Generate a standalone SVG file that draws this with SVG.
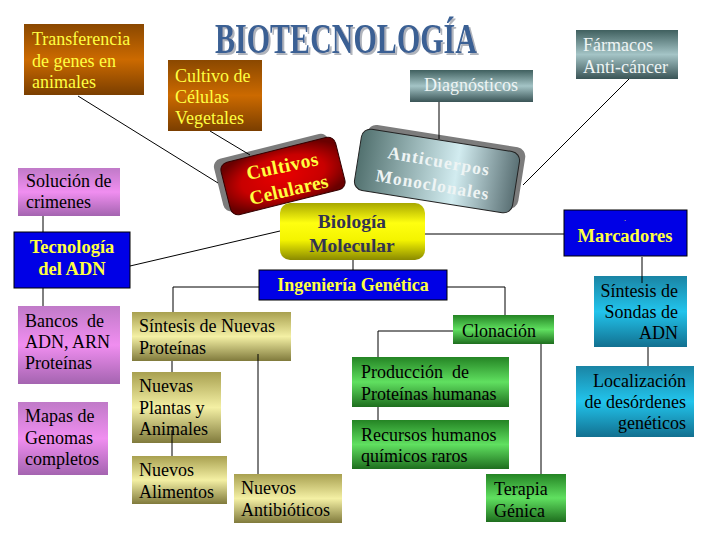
<svg xmlns="http://www.w3.org/2000/svg" width="720" height="540" viewBox="0 0 720 540">
<style>
text{font-family:"Liberation Serif","DejaVu Serif",serif;font-size:18px}
.b{font-weight:bold}
.y{fill:#ffff40}
.k{fill:#000}
.w{fill:#eef4f4}
.blue{fill:#0000e6;stroke:#000;stroke-width:1}
.ln{stroke:#000;stroke-width:1;fill:none}
.mid{text-anchor:middle}
.end{text-anchor:end}
</style>
<defs>
<filter id="tshadow" x="-5%" y="-20%" width="110%" height="150%">
<feOffset in="SourceAlpha" dx="2" dy="2" result="o"/>
<feFlood flood-color="#b0b4bc"/>
<feComposite in2="o" operator="in" result="s"/>
<feMerge><feMergeNode in="s"/><feMergeNode in="SourceGraphic"/></feMerge>
</filter>
<linearGradient id="brown" x1="0" y1="0" x2="0" y2="1"><stop offset="0" stop-color="#8a4800"/><stop offset="0.5" stop-color="#cc6a00"/><stop offset="1" stop-color="#7a3e00"/></linearGradient>
<linearGradient id="teal" x1="0" y1="0" x2="0" y2="1"><stop offset="0" stop-color="#40605f"/><stop offset="0.5" stop-color="#a4c4c6"/><stop offset="1" stop-color="#3a5456"/></linearGradient>
<linearGradient id="anti" x1="0" y1="0" x2="1" y2="0"><stop offset="0" stop-color="#52716f"/><stop offset="0.62" stop-color="#d2ecf0"/><stop offset="1" stop-color="#5a7074"/></linearGradient>
<radialGradient id="red" cx="0.5" cy="0.5" r="0.6"><stop offset="0" stop-color="#e80000"/><stop offset="0.6" stop-color="#c80000"/><stop offset="1" stop-color="#6a0000"/></radialGradient>
<linearGradient id="yel" x1="0" y1="0" x2="0" y2="1"><stop offset="0" stop-color="#a8a800"/><stop offset="0.35" stop-color="#ffff10"/><stop offset="0.65" stop-color="#f4f400"/><stop offset="1" stop-color="#8a8a00"/></linearGradient>
<linearGradient id="pink" x1="0" y1="0" x2="0" y2="1"><stop offset="0" stop-color="#c07ac8"/><stop offset="0.5" stop-color="#f08ef0"/><stop offset="1" stop-color="#a464b0"/></linearGradient>
<linearGradient id="olive" x1="0" y1="0" x2="0" y2="1"><stop offset="0" stop-color="#a8a050"/><stop offset="0.5" stop-color="#f4f0a4"/><stop offset="1" stop-color="#807a3c"/></linearGradient>
<linearGradient id="green" x1="0" y1="0" x2="0" y2="1"><stop offset="0" stop-color="#248424"/><stop offset="0.5" stop-color="#60e060"/><stop offset="1" stop-color="#1e6e1e"/></linearGradient>
<linearGradient id="cyan" x1="0" y1="0" x2="0" y2="1"><stop offset="0" stop-color="#1a84a4"/><stop offset="0.5" stop-color="#22c4ec"/><stop offset="1" stop-color="#127090"/></linearGradient>
</defs>
<rect width="720" height="540" fill="#fff"/>

<g id="title">
<text x="215" y="53" class="b" style="font-size:42px" fill="#3a6094" filter="url(#tshadow)" textLength="262" lengthAdjust="spacingAndGlyphs">BIOTECNOLOGÍA</text>
</g>

<g id="transferencia">
<rect x="24" y="24" width="120" height="71" fill="url(#brown)"/>
<text x="32" y="45" class="y">Transferencia</text>
<text x="32" y="67" class="y">de genes en</text>
<text x="32" y="88" class="y">animales</text>
</g>

<g id="cultivo-vegetales">
<rect x="168" y="60" width="94" height="71" fill="url(#brown)"/>
<text x="175" y="82" class="y">Cultivo de</text>
<text x="175" y="103" class="y">Células</text>
<text x="175" y="124" class="y">Vegetales</text>
</g>

<g id="diagnosticos">
<rect x="410" y="70" width="123" height="32" fill="url(#teal)"/>
<text x="471" y="91" class="w mid">Diagnósticos</text>
</g>

<g id="farmacos">
<rect x="576" y="30" width="102" height="49" fill="url(#teal)"/>
<text x="583" y="51" class="w">Fármacos</text>
<text x="583" y="73" class="w">Anti-cáncer</text>
</g>

<g id="cultivos-celulares">
<g transform="rotate(-14 283 176)">
<rect x="218" y="144" width="118" height="54" rx="8" fill="#7c7c7c"/>
<rect x="224" y="149" width="118" height="54" rx="8" fill="url(#red)" stroke="#300" stroke-width="1"/>
</g>
<text x="248" y="180" class="b y" style="font-size:19.5px" letter-spacing="0.5" transform="rotate(-12 248 180)">Cultivos</text>
<text x="251" y="205" class="b y" style="font-size:19.5px" letter-spacing="0.2" transform="rotate(-13 251 205)">Celulares</text>
</g>

<g id="anticuerpos">
<g transform="rotate(9 437 171)">
<rect x="362" y="135" width="160" height="62" rx="9" fill="#7c7c7c"/>
<rect x="357" y="140" width="160" height="62" rx="9" fill="url(#anti)" stroke="#222" stroke-width="1"/>
</g>
<text x="387" y="158" class="b w" style="font-size:17.5px" letter-spacing="1.1" transform="rotate(10 387 158)">Anticuerpos</text>
<text x="375" y="181" class="b w" style="font-size:17.5px" letter-spacing="1" transform="rotate(9.5 375 181)">Monoclonales</text>
</g>

<g id="biologia">
<rect x="280" y="203" width="145" height="57" rx="10" fill="url(#yel)"/>
<text x="352" y="228" class="b mid" style="font-size:19.5px" fill="#333350">Biología</text>
<text x="352" y="252" class="b mid" style="font-size:19.5px" fill="#333350">Molecular</text>
</g>

<g id="ingenieria">
<rect x="259" y="270" width="188" height="30" class="blue"/>
<text x="353" y="291" class="b y mid" style="font-size:18px">Ingeniería Genética</text>
</g>

<g id="solucion">
<rect x="18" y="168" width="102" height="48" fill="url(#pink)"/>
<text x="26" y="187" class="k">Solución de</text>
<text x="26" y="208" class="k">crimenes</text>
</g>

<g id="tecnologia">
<rect x="14" y="232" width="116" height="56" class="blue"/>
<text x="72" y="253" class="b y mid" style="font-size:18.5px">Tecnología</text>
<text x="72" y="275" class="b y mid" style="font-size:18.5px">del ADN</text>
</g>

<g id="bancos">
<rect x="18" y="306" width="102" height="78" fill="url(#pink)"/>
<text x="25" y="327" class="k" xml:space="preserve">Bancos  de</text>
<text x="25" y="348" class="k">ADN, ARN</text>
<text x="25" y="369" class="k">Proteínas</text>
</g>

<g id="mapas">
<rect x="18" y="402" width="90" height="73" fill="url(#pink)"/>
<text x="25" y="422" class="k">Mapas de</text>
<text x="25" y="444" class="k">Genomas</text>
<text x="25" y="465" class="k">completos</text>
</g>

<g id="sintesis-proteinas">
<rect x="132" y="312" width="159" height="49" fill="url(#olive)"/>
<text x="139" y="332" class="k">Síntesis de Nuevas</text>
<text x="139" y="354" class="k">Proteínas</text>
</g>

<g id="nuevas-plantas">
<rect x="132" y="372" width="89" height="71" fill="url(#olive)"/>
<text x="139" y="392" class="k">Nuevas</text>
<text x="139" y="414" class="k">Plantas y</text>
<text x="139" y="435" class="k">Animales</text>
</g>

<g id="nuevos-alimentos">
<rect x="132" y="456" width="95" height="48" fill="url(#olive)"/>
<text x="139" y="476" class="k">Nuevos</text>
<text x="139" y="498" class="k">Alimentos</text>
</g>

<g id="nuevos-antibioticos">
<rect x="234" y="474" width="108" height="49" fill="url(#olive)"/>
<text x="241" y="494" class="k">Nuevos</text>
<text x="241" y="516" class="k">Antibióticos</text>
</g>

<g id="clonacion">
<rect x="453" y="315" width="101" height="29" fill="url(#green)"/>
<text x="462" y="337" class="k">Clonación</text>
</g>

<g id="produccion">
<rect x="352" y="357" width="157" height="50" fill="url(#green)"/>
<text x="361" y="378" class="k" xml:space="preserve">Producción  de</text>
<text x="361" y="400" class="k">Proteínas humanas</text>
</g>

<g id="recursos">
<rect x="352" y="420" width="157" height="49" fill="url(#green)"/>
<text x="361" y="441" class="k">Recursos humanos</text>
<text x="361" y="462" class="k">químicos raros</text>
</g>

<g id="terapia">
<rect x="486" y="474" width="80" height="48" fill="url(#green)"/>
<text x="494" y="495" class="k">Terapia</text>
<text x="494" y="517" class="k">Génica</text>
</g>

<g id="marcadores">
<rect x="564" y="210" width="123" height="46" class="blue"/>
<text x="624" y="221" class="y" style="font-size:8px">.</text>
<text x="625" y="242" class="b y mid" style="font-size:18.5px">Marcadores</text>
</g>

<g id="sondas">
<rect x="594" y="276" width="93" height="71" fill="url(#cyan)"/>
<text x="678" y="297" class="k end">Síntesis de</text>
<text x="678" y="318" class="k end">Sondas de</text>
<text x="678" y="339" class="k end">ADN</text>
</g>

<g id="localizacion">
<rect x="576" y="366" width="118" height="71" fill="url(#cyan)"/>
<text x="686" y="387" class="k end">Localización</text>
<text x="686" y="408" class="k end">de desórdenes</text>
<text x="686" y="429" class="k end">genéticos</text>
</g>

<g id="connectors" class="ln">
<line x1="78" y1="96" x2="218" y2="183"/>
<line x1="210" y1="131" x2="250" y2="155"/>
<line x1="439" y1="102" x2="439" y2="139"/>
<line x1="629" y1="79" x2="523" y2="185"/>
<line x1="43" y1="216" x2="43" y2="232"/>
<line x1="43" y1="288" x2="43" y2="306"/>
<line x1="130" y1="266" x2="280" y2="231"/>
<line x1="353" y1="260" x2="353" y2="270"/>
<line x1="425" y1="234" x2="564" y2="234"/>
<polyline points="259,287 173,287 173,312"/>
<polyline points="447,287 505,287 505,315"/>
<polyline points="453,331 378,331 378,357"/>
<line x1="378" y1="407" x2="378" y2="420"/>
<line x1="541" y1="344" x2="541" y2="474"/>
<line x1="172" y1="361" x2="172" y2="372"/>
<line x1="172" y1="430" x2="172" y2="456"/>
<line x1="258" y1="354" x2="258" y2="474"/>
<line x1="642" y1="257" x2="642" y2="283"/>
<line x1="648" y1="347" x2="648" y2="366"/>
</g>
</svg>
